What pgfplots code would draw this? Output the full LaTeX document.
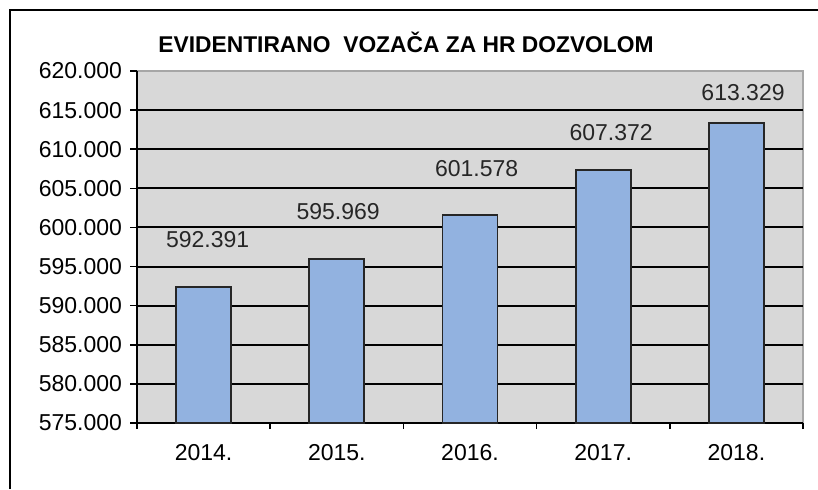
\documentclass[border=0pt]{standalone}
\usepackage{pgfplots}
\pgfplotsset{compat=1.18}
\usepackage{fontspec}
\setmainfont{Liberation Sans}
\definecolor{barblue}{RGB}{146,178,224}
\definecolor{plotbg}{RGB}{216,216,216}
\begin{document}
\begin{tikzpicture}
\useasboundingbox (0,0) rectangle (409pt,244.5pt);
\fill[white] (0,0) rectangle (409pt,244.5pt);
\draw[line width=1pt] (5pt,0) -- (5pt,239.5pt) -- (409.5pt,239.5pt);
\node[anchor=base, font=\bfseries\fontsize{11.4}{13}\selectfont] at (203pt,218.5pt) {EVIDENTIRANO\ \ VOZAČA ZA HR DOZVOLOM};
\begin{axis}[
  at={(68.5pt,33pt)}, anchor=south west,
  scale only axis, width=333pt, height=176pt,
  xmin=0.5, xmax=5.5, ymin=575000, ymax=620000,
  axis background/.style={fill=plotbg, draw=gray!70, line width=0.6pt},
  axis x line*=bottom, axis y line*=left,
  axis line style={line width=1pt, black, -},
  xtick={1,2,3,4,5},
  xticklabels={2014.,2015.,2016.,2017.,2018.},
  x tick style={draw=none},
  ytick={575000,580000,...,620000},
  y tick style={line width=0.8pt, black},
  tick align=outside, major tick length=3.5pt,
  extra x ticks={0.5,1.5,2.5,3.5,4.5,5.5},
  extra x tick labels={},
  extra x tick style={x tick style={draw=black, line width=0.8pt}, major tick length=3pt},
  scaled y ticks=false,
  yticklabel style={/pgf/number format/fixed, /pgf/number format/1000 sep={.}, /pgf/number format/assume math mode=true, xshift=-0.5pt},
  ticklabel style={font=\fontsize{11.5}{13}\selectfont},
  xticklabel style={yshift=-3.8pt},
  clip=false,
]
\pgfplotsinvokeforeach{580000,585000,590000,595000,600000,605000,610000,615000}{
  \draw[line width=1pt, black] (axis cs:0.5,#1) -- (axis cs:5.5,#1);
}
\addplot[ybar, bar width=0.413, bar shift=0pt, fill=barblue, draw=black!85, line width=0.9pt]
  coordinates {(1,592391) (2,595969) (3,601578) (4,607372) (5,613329)};
\addplot[draw=none, mark=none, nodes near coords, point meta=explicit symbolic,
  every node near coord/.append style={anchor=center, font=\fontsize{11.5}{13}\selectfont, text=black!85}]
  table[meta=lab] {
x y lab
1.03 598400 592.391
2.01 602000 595.969
3.05 607500 601.578
4.06 612100 607.372
5.05 617300 613.329
};
\end{axis}
\end{tikzpicture}
\end{document}
